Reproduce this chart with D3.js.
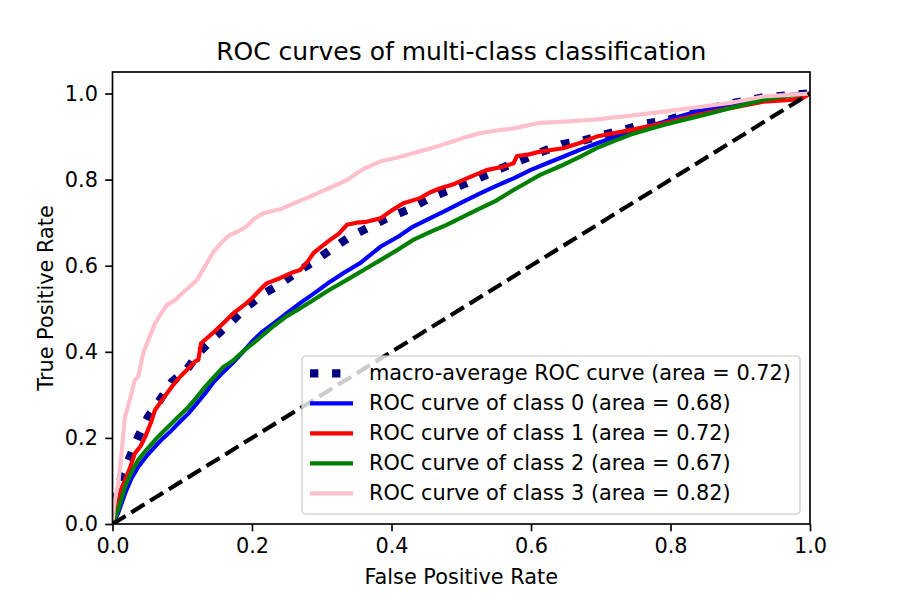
<!DOCTYPE html>
<html>
<head>
<meta charset="utf-8">
<script src="https://cdn.jsdelivr.net/npm/d3@7"></script>
<style>
  body { margin: 0; background: #fff; }
  svg { display: block; font-family: "DejaVu Sans", sans-serif; }
</style>
</head>
<body>
<svg id="chart" width="900" height="600"></svg>
<script>
// values
const xTicks = [0, 0.2, 0.4, 0.6, 0.8, 1.0];
const yTicks = [0, 0.2, 0.4, 0.6, 0.8, 1.0];

const seriesNames = ["macro-average ROC curve", "ROC curve of class 0", "ROC curve of class 1",
                     "ROC curve of class 2", "ROC curve of class 3"];
const seriesAuc = [0.72, 0.68, 0.72, 0.67, 0.82];

const macroFpr = [0, 0.005, 0.013, 0.025, 0.037, 0.051, 0.068, 0.085, 0.106, 0.125, 0.147, 0.168, 0.19, 0.214,
  0.24, 0.264, 0.288, 0.312, 0.34, 0.369, 0.393, 0.422, 0.45, 0.474, 0.5, 0.53, 0.557, 0.586, 0.613, 0.644,
  0.675, 0.704, 0.732, 0.761, 0.795, 0.838, 0.885, 0.933, 0.97, 1];
const macroTpr = [0, 0.06, 0.11, 0.156, 0.203, 0.249, 0.288, 0.33, 0.358, 0.4, 0.435, 0.466, 0.501, 0.532,
  0.557, 0.585, 0.609, 0.636, 0.667, 0.69, 0.71, 0.729, 0.753, 0.77, 0.787, 0.807, 0.826, 0.845, 0.863, 0.882,
  0.891, 0.904, 0.915, 0.929, 0.938, 0.958, 0.976, 0.991, 0.996, 1];

const class0Fpr = [0, 0.004, 0.008, 0.018, 0.027, 0.037, 0.049, 0.061, 0.073, 0.085, 0.097, 0.109, 0.121, 0.133,
  0.145, 0.157, 0.173, 0.187, 0.202, 0.215, 0.231, 0.25, 0.269, 0.29, 0.312, 0.333, 0.355, 0.384, 0.41, 0.431,
  0.455, 0.479, 0.503, 0.527, 0.551, 0.575, 0.599, 0.623, 0.646, 0.67, 0.694, 0.718, 0.742, 0.766, 0.79, 0.814,
  0.838, 0.862, 0.885, 0.91, 0.933, 0.957, 0.981, 1];
const class0Tpr = [0, 0.012, 0.025, 0.071, 0.105, 0.133, 0.158, 0.18, 0.2, 0.218, 0.238, 0.257, 0.28, 0.304,
  0.33, 0.35, 0.375, 0.4, 0.427, 0.447, 0.466, 0.49, 0.513, 0.537, 0.563, 0.585, 0.606, 0.644, 0.668, 0.691,
  0.71, 0.729, 0.749, 0.768, 0.786, 0.803, 0.822, 0.838, 0.853, 0.869, 0.884, 0.898, 0.911, 0.923, 0.934, 0.947,
  0.958, 0.966, 0.973, 0.982, 0.989, 0.994, 0.998, 1];

const class1Fpr = [0, 0.003, 0.006, 0.012, 0.018, 0.025, 0.032, 0.04, 0.047, 0.055, 0.061, 0.072, 0.085, 0.097,
  0.108, 0.118, 0.123, 0.127, 0.149, 0.161, 0.173, 0.19, 0.202, 0.215, 0.221, 0.24, 0.259, 0.269, 0.28, 0.288,
  0.3, 0.312, 0.325, 0.336, 0.35, 0.364, 0.384, 0.4, 0.417, 0.441, 0.455, 0.47, 0.49, 0.508, 0.536, 0.56, 0.575,
  0.58, 0.595, 0.613, 0.646, 0.67, 0.694, 0.742, 0.79, 0.838, 0.885, 0.933, 0.971, 0.99, 1];
const class1Tpr = [0, 0.03, 0.056, 0.08, 0.102, 0.13, 0.164, 0.18, 0.203, 0.235, 0.265, 0.29, 0.319, 0.342,
  0.36, 0.377, 0.381, 0.42, 0.451, 0.47, 0.489, 0.51, 0.528, 0.55, 0.559, 0.571, 0.585, 0.59, 0.61, 0.629,
  0.645, 0.66, 0.675, 0.695, 0.7, 0.702, 0.71, 0.728, 0.745, 0.757, 0.77, 0.78, 0.79, 0.803, 0.822, 0.83, 0.838,
  0.855, 0.858, 0.865, 0.873, 0.885, 0.9, 0.915, 0.931, 0.95, 0.966, 0.981, 0.985, 0.99, 1];

const class2Fpr = [0, 0.004, 0.008, 0.018, 0.027, 0.037, 0.049, 0.061, 0.073, 0.085, 0.097, 0.109, 0.121, 0.133,
  0.146, 0.159, 0.173, 0.19, 0.202, 0.231, 0.25, 0.269, 0.283, 0.31, 0.336, 0.36, 0.384, 0.41, 0.431, 0.455,
  0.479, 0.503, 0.527, 0.551, 0.575, 0.599, 0.613, 0.646, 0.67, 0.694, 0.718, 0.742, 0.766, 0.79, 0.814, 0.838,
  0.862, 0.885, 0.91, 0.933, 0.957, 0.98, 1];
const class2Tpr = [0, 0.016, 0.033, 0.087, 0.12, 0.149, 0.173, 0.195, 0.215, 0.234, 0.253, 0.272, 0.295, 0.319,
  0.342, 0.365, 0.38, 0.405, 0.42, 0.46, 0.483, 0.501, 0.515, 0.543, 0.567, 0.59, 0.613, 0.638, 0.66, 0.678,
  0.695, 0.714, 0.733, 0.752, 0.776, 0.798, 0.811, 0.834, 0.853, 0.873, 0.889, 0.904, 0.916, 0.927, 0.937, 0.946,
  0.956, 0.966, 0.976, 0.985, 0.992, 0.997, 1];

const class3Fpr = [0, 0.002, 0.005, 0.008, 0.012, 0.018, 0.025, 0.032, 0.037, 0.044, 0.052, 0.061, 0.07, 0.078,
  0.09, 0.097, 0.11, 0.121, 0.133, 0.145, 0.157, 0.168, 0.18, 0.192, 0.204, 0.216, 0.24, 0.266, 0.288, 0.31,
  0.336, 0.36, 0.384, 0.41, 0.431, 0.455, 0.479, 0.503, 0.527, 0.551, 0.575, 0.613, 0.65, 0.694, 0.74, 0.79,
  0.838, 0.885, 0.933, 0.97, 1];
const class3Tpr = [0, 0.04, 0.07, 0.09, 0.15, 0.25, 0.29, 0.334, 0.342, 0.397, 0.43, 0.466, 0.49, 0.509,
  0.52, 0.532, 0.55, 0.567, 0.6, 0.633, 0.655, 0.671, 0.68, 0.691, 0.71, 0.722, 0.731, 0.749, 0.764, 0.78,
  0.799, 0.825, 0.842, 0.852, 0.861, 0.872, 0.884, 0.897, 0.908, 0.914, 0.919, 0.932, 0.935, 0.94, 0.948, 0.958,
  0.968, 0.978, 0.993, 0.997, 1];

const fprList = [macroFpr, class0Fpr, class1Fpr, class2Fpr, class3Fpr];
const tprList = [macroTpr, class0Tpr, class1Tpr, class2Tpr, class3Tpr];
const diagonal = [0, 1];

// styles (matplotlib at 150 dpi: 1pt = 2.083px)
const pt = 150 / 72;
const colors = ["navy", "blue", "red", "green", "pink"];
const widths = [4 * pt, 2 * pt, 2 * pt, 2 * pt, 2 * pt];
const dashes = [`${4 * pt} ${6.6 * pt}`, null, null, null, null];

const svg = d3.select("#chart");
const plotLeft = 112.5, plotRight = 810, plotTop = 72, plotBottom = 524;

const x = d3.scaleLinear().domain([0, 1]).range([plotLeft, plotRight]);
const y = d3.scaleLinear().domain([0, 1.05]).range([plotBottom, plotTop]);

svg.append("defs").append("clipPath").attr("id", "plotClip")
  .append("rect")
  .attr("x", plotLeft).attr("y", plotTop)
  .attr("width", plotRight - plotLeft).attr("height", plotBottom - plotTop);

const plot = svg.append("g").attr("clip-path", "url(#plotClip)");

const line = d3.line().x(d => x(d[0])).y(d => y(d[1]));

fprList.forEach((fpr, i) => {
  const pts = fpr.map((v, k) => [v, tprList[i][k]]);
  plot.append("path")
    .datum(pts)
    .attr("d", line)
    .attr("fill", "none")
    .attr("stroke", colors[i])
    .attr("stroke-width", widths[i])
    .attr("stroke-linejoin", "round")
    .attr("stroke-linecap", dashes[i] ? "butt" : "square")
    .attr("stroke-dasharray", dashes[i]);
});

plot.append("path")
  .datum(diagonal.map(v => [v, v]))
  .attr("d", line)
  .attr("fill", "none")
  .attr("stroke", "black")
  .attr("stroke-width", 2 * pt)
  .attr("stroke-dasharray", `${3.7 * 2 * pt} ${1.6 * 2 * pt}`);

// axes
const fmt = d3.format(".1f");
const xAxis = svg.append("g")
  .attr("transform", `translate(0,${plotBottom})`)
  .call(d3.axisBottom(x).tickValues(xTicks).tickFormat(fmt).tickSize(3.5 * pt).tickPadding(3.5 * pt));
const yAxis = svg.append("g")
  .attr("transform", `translate(${plotLeft},0)`)
  .call(d3.axisLeft(y).tickValues(yTicks).tickFormat(fmt).tickSize(3.5 * pt).tickPadding(3.5 * pt));

[xAxis, yAxis].forEach(ax => {
  ax.select(".domain").remove();
  ax.selectAll(".tick line").attr("stroke", "black").attr("stroke-width", 0.8 * pt);
  ax.selectAll(".tick text")
    .attr("fill", "black")
    .style("font-family", "DejaVu Sans")
    .style("font-size", (10 * pt) + "px");
});

svg.append("rect")
  .attr("x", plotLeft).attr("y", plotTop)
  .attr("width", plotRight - plotLeft).attr("height", plotBottom - plotTop)
  .attr("fill", "none")
  .attr("stroke", "black")
  .attr("stroke-width", 0.8 * pt);

// title and labels
svg.append("text")
  .attr("x", (plotLeft + plotRight) / 2).attr("y", 60)
  .attr("text-anchor", "middle")
  .style("font-size", (12 * pt) + "px")
  .text("ROC curves of multi-class classification");

svg.append("text")
  .attr("x", (plotLeft + plotRight) / 2).attr("y", 584)
  .attr("text-anchor", "middle")
  .style("font-size", (10 * pt) + "px")
  .text("False Positive Rate");

svg.append("text")
  .attr("transform", `translate(53,${(plotTop + plotBottom) / 2}) rotate(-90)`)
  .attr("text-anchor", "middle")
  .style("font-size", (10 * pt) + "px")
  .text("True Positive Rate");

// legend
const legend = svg.append("g");
legend.append("rect")
  .attr("x", 302).attr("y", 356)
  .attr("width", 498).attr("height", 158)
  .attr("rx", 4).attr("ry", 4)
  .attr("fill", "white").attr("fill-opacity", 0.8)
  .attr("stroke", "#cccccc").attr("stroke-opacity", 0.8)
  .attr("stroke-width", 0.8 * pt);

seriesNames.forEach((name, i) => {
  const cy = 373.3 + i * 30;
  legend.append("line")
    .attr("x1", 310).attr("x2", 353)
    .attr("y1", cy).attr("y2", cy)
    .attr("stroke", colors[i])
    .attr("stroke-width", widths[i])
    .attr("stroke-linecap", "butt")
    .attr("stroke-dasharray", dashes[i]);
  legend.append("text")
    .attr("x", 369).attr("y", cy)
    .attr("dy", "0.32em")
    .style("font-size", (10 * pt) + "px")
    .text(`${name} (area = ${seriesAuc[i].toFixed(2)})`);
});
</script>
</body>
</html>
